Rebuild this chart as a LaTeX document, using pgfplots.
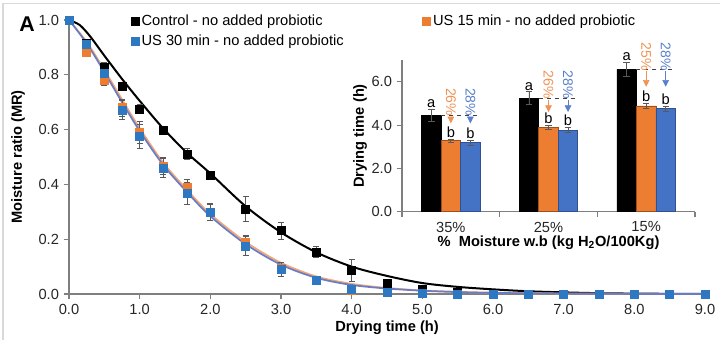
\documentclass[border=0pt]{standalone}
\usepackage{fontspec}
\setmainfont{Liberation Sans}
\usepackage{pgfplots}
\pgfplotsset{compat=1.18}
\usetikzlibrary{arrows.meta}
\definecolor{corg}{HTML}{ED7D31}
\definecolor{cblu}{HTML}{2E78C2}
\definecolor{corgl}{HTML}{F2A777}
\definecolor{cblul}{HTML}{6A7DC4}
\definecolor{bblu}{HTML}{4472C4}
\definecolor{bbluo}{HTML}{2F528F}
\definecolor{borgo}{HTML}{9E4F1C}
\definecolor{axgray}{HTML}{7F7F7F}
\definecolor{errgray}{HTML}{595959}
\definecolor{torg}{HTML}{EE9455}
\definecolor{tblu}{HTML}{5A7FCC}
\begin{document}
\begin{tikzpicture}
\useasboundingbox (0,0) rectangle (540pt,255pt);
\draw[gray!30, line width=1.2pt] (2.25pt,0pt) -- (2.25pt,252.5pt) -- (540pt,252.5pt);
\node[font=\fontsize{16}{18}\selectfont\bfseries] at (20.25pt,237pt) {A};

\begin{axis}[
  at={(51.75pt,34.5pt)}, anchor=south west, scale only axis,
  width=477pt, height=205.5pt,
  xmin=0, xmax=9, ymin=0, ymax=1,
  enlargelimits=false, clip=false,
  axis lines=left, axis line style={-, draw=axgray, line width=0.8pt},
  tick style={draw=axgray, line width=0.8pt}, tick align=outside,
  major tick length=4pt,
  xtick={0,1,2,3,4,5,6,7,8,9}, ytick={0,0.2,0.4,0.6,0.8,1.0},
  /pgf/number format/.cd, fixed, fixed zerofill, precision=1, assume math mode=true,
  /pgfplots/.cd,
  ticklabel style={font=\fontsize{11}{13}\selectfont, text=black!85},
  xlabel={Drying time (h)}, ylabel={Moisture ratio (MR)},
  label style={font=\fontsize{11}{13}\selectfont\bfseries},
  xlabel style={at={(axis description cs:0.5,-0.124)}, anchor=center},
  ylabel style={at={(axis description cs:-0.080,0.5)}, anchor=center},
  legend columns=2,
  legend style={at={(axis description cs:0.097,1.03)}, anchor=north west,
    draw=none, fill=none, inner sep=0pt, row sep=2pt,
    font=\fontsize{11}{13}\selectfont,
    /tikz/every even column/.append style={column sep=57pt}},
  legend cell align=left,
  legend image code/.code={\draw[#1] plot coordinates {(0.1cm,0cm)};},
]
% fitted curves
\addplot[smooth, tension=0.5, black, line width=1.5pt, forget plot] coordinates {
(0,1.0) (0.15,0.982) (0.3,0.94) (0.5,0.87) (0.75,0.785) (1.0,0.705) (1.33,0.605) (1.67,0.515)
(2.0,0.44) (2.5,0.32) (3.0,0.225) (3.5,0.152) (4.0,0.10) (4.5,0.066) (5.0,0.04)
(5.5,0.026) (6.0,0.017) (6.5,0.010) (7.0,0.006) (7.5,0.003) (8.0,0.0015) (9.0,0.0)};
\addplot[smooth, tension=0.5, corgl, line width=1.3pt, forget plot] coordinates {
(0,1.0) (0.25,0.92) (0.5,0.818) (0.75,0.71) (1.0,0.605) (1.33,0.48) (1.67,0.38)
(2.0,0.292) (2.5,0.19) (3.0,0.114) (3.5,0.064) (4.0,0.037) (4.5,0.022) (5.0,0.013)
(5.5,0.008) (6.0,0.005) (7.0,0.002) (8.0,0.001) (9.0,0.0)};
\addplot[smooth, tension=0.5, cblul, line width=1.3pt, forget plot] coordinates {
(0,1.0) (0.25,0.915) (0.5,0.81) (0.75,0.70) (1.0,0.595) (1.33,0.472) (1.67,0.372)
(2.0,0.284) (2.5,0.182) (3.0,0.107) (3.5,0.059) (4.0,0.033) (4.5,0.02) (5.0,0.012)
(5.5,0.007) (6.0,0.004) (7.0,0.0015) (8.0,0.0005) (9.0,0.0)};
% data
\addplot[only marks, mark=square*, mark size=3pt, black,
  error bars/.cd, y dir=both, y explicit,
  error bar style={errgray, line width=0.6pt},
  error mark options={rotate=90, mark size=2.2pt, errgray, line width=0.6pt}]
coordinates {
(0,1.0) +- (0,0) (0.25,0.915) +- (0,0.01) (0.5,0.827) +- (0,0.02) (0.75,0.759) +- (0,0.01)
(1.0,0.676) +- (0,0.015) (1.33,0.598) +- (0,0.01) (1.67,0.51) +- (0,0.02)
(2.0,0.433) +- (0,0.01) (2.5,0.31) +- (0,0.045) (3.0,0.231) +- (0,0.03)
(3.5,0.154) +- (0,0.02) (4.0,0.085) +- (0,0.04) (4.5,0.039) +- (0,0.015)
(5.0,0.018) +- (0,0.005) (5.5,0.005) +- (0,0) (6.0,0.002) +- (0,0) (6.5,0.0) +- (0,0)
(7.0,0.0) +- (0,0) (7.5,0.0) +- (0,0) (8.0,0.0) +- (0,0) (8.5,0.0) +- (0,0) (9.0,0.0) +- (0,0)};
\addlegendentry{Control - no added probiotic}
\addplot[only marks, mark=square*, mark size=3pt, corg,
  error bars/.cd, y dir=both, y explicit,
  error bar style={errgray, line width=0.6pt},
  error mark options={rotate=90, mark size=2.2pt, errgray, line width=0.6pt}]
coordinates {
(0,1.0) +- (0,0) (0.25,0.884) +- (0,0.015) (0.5,0.78) +- (0,0.02) (0.75,0.68) +- (0,0.03)
(1.0,0.59) +- (0,0.04) (1.33,0.468) +- (0,0.03) (1.67,0.39) +- (0,0.03)
(2.0,0.30) +- (0,0.03) (2.5,0.19) +- (0,0.025) (3.0,0.095) +- (0,0.02)
(3.5,0.05) +- (0,0.01) (4.0,0.015) +- (0,0.01) (4.5,0.006) +- (0,0)
(5.0,0.002) +- (0,0) (5.5,0.0) +- (0,0) (6.0,0.0) +- (0,0) (6.5,0.0) +- (0,0)
(7.0,0.0) +- (0,0) (7.5,0.0) +- (0,0) (8.0,0.0) +- (0,0) (8.5,0.0) +- (0,0) (9.0,0.0) +- (0,0)};
\addlegendentry{US 15 min - no added probiotic}
\addplot[only marks, mark=square*, mark size=3pt, cblu,
  error bars/.cd, y dir=both, y explicit,
  error bar style={errgray, line width=0.6pt},
  error mark options={rotate=90, mark size=2.2pt, errgray, line width=0.6pt}]
coordinates {
(0,1.0) +- (0,0) (0.25,0.911) +- (0,0.01) (0.5,0.805) +- (0,0.02) (0.75,0.672) +- (0,0.035)
(1.0,0.575) +- (0,0.045) (1.33,0.46) +- (0,0.035) (1.67,0.368) +- (0,0.04)
(2.0,0.297) +- (0,0.03) (2.5,0.175) +- (0,0.035) (3.0,0.091) +- (0,0.025)
(3.5,0.049) +- (0,0.01) (4.0,0.017) +- (0,0.01) (4.5,0.008) +- (0,0)
(5.0,0.003) +- (0,0) (5.5,0.0) +- (0,0) (6.0,0.0) +- (0,0) (6.5,0.0) +- (0,0)
(7.0,0.0) +- (0,0) (7.5,0.0) +- (0,0) (8.0,0.0) +- (0,0) (8.5,0.0) +- (0,0) (9.0,0.0) +- (0,0)};
\addlegendentry{US 30 min - no added probiotic}
\end{axis}

\begin{axis}[
  at={(301.5pt,96.2pt)}, anchor=south west, scale only axis,
  width=219.75pt, height=113.8pt,
  xmin=-0.5, xmax=2.5, ymin=0, ymax=7,
  clip=false,
  axis lines=left, axis line style={-, draw=axgray, line width=0.8pt},
  tick style={draw=axgray, line width=0.8pt}, tick align=outside,
  major tick length=4pt, minor tick length=4pt,
  xtick={0,1,2}, xticklabels={35\%,25\%,15\%},
  major x tick style={draw=none},
  minor xtick={-0.5,0.5,1.5,2.5},
  ytick={0,2,4,6},
  /pgf/number format/.cd, fixed, fixed zerofill, precision=1, assume math mode=true,
  /pgfplots/.cd,
  ticklabel style={font=\fontsize{11}{13}\selectfont, text=black!85},
  xlabel={\%\ \ Moisture w.b (kg H\textsubscript{2}O/100Kg)}, ylabel={Drying time (h)},
  label style={font=\fontsize{11}{13}\selectfont\bfseries},
  xlabel style={at={(axis description cs:0.5,-0.204)}, anchor=center},
  ylabel style={at={(axis description cs:-0.143,0.5)}, anchor=center},
  every axis plot/.append style={ybar, bar width=14.6pt, bar shift=0pt,
    error bars/y dir=both, error bars/y explicit,
    error bars/error bar style={errgray, line width=0.6pt},
    error bars/error mark options={rotate=90, mark size=2.4pt, errgray, line width=0.6pt}},
]
\addplot[fill=black, draw=black] coordinates {
(-0.2,4.46) +- (0,0.27) (0.8,5.23) +- (0,0.30) (1.8,6.57) +- (0,0.34)};
\addplot[fill=corg, draw=borgo, line width=0.6pt] coordinates {
(0,3.28) +- (0,0.08) (1,3.89) +- (0,0.10) (2,4.88) +- (0,0.12)};
\addplot[fill=bblu, draw=bbluo, line width=0.6pt] coordinates {
(0.2,3.18) +- (0,0.10) (1.2,3.77) +- (0,0.12) (2.2,4.75) +- (0,0.12)};
% letters
\node[anchor=south, inner sep=1pt, font=\fontsize{11}{13}\selectfont] at (axis cs:-0.2,4.73) {a};
\node[anchor=south, inner sep=1pt, font=\fontsize{11}{13}\selectfont] at (axis cs:0.8,5.53) {a};
\node[anchor=south, inner sep=1pt, font=\fontsize{11}{13}\selectfont] at (axis cs:1.8,6.91) {a};
\node[anchor=south, inner sep=1pt, font=\fontsize{11}{13}\selectfont] at (axis cs:0,3.36) {b};
\node[anchor=south, inner sep=1pt, font=\fontsize{11}{13}\selectfont] at (axis cs:0.2,3.28) {b};
\node[anchor=south, inner sep=1pt, font=\fontsize{11}{13}\selectfont] at (axis cs:1,3.99) {b};
\node[anchor=south, inner sep=1pt, font=\fontsize{11}{13}\selectfont] at (axis cs:1.2,3.89) {b};
\node[anchor=south, inner sep=1pt, font=\fontsize{11}{13}\selectfont] at (axis cs:2,5.0) {b};
\node[anchor=south, inner sep=1pt, font=\fontsize{11}{13}\selectfont] at (axis cs:2.2,4.87) {b};
% dashed reference lines
\draw[dashed, black!75, line width=0.6pt] (axis cs:-0.1,4.46) -- (axis cs:0.3,4.46);
\draw[dashed, black!75, line width=0.6pt] (axis cs:0.9,5.23) -- (axis cs:1.3,5.23);
\draw[dashed, black!75, line width=0.6pt] (axis cs:1.9,6.57) -- (axis cs:2.3,6.57);
% percentage labels and arrows
\node[rotate=-90, anchor=west, inner sep=0.5pt, text=torg, font=\fontsize{10.5}{12}\selectfont] (o1) at (axis cs:0,5.75) {26\%};
\node[rotate=-90, anchor=west, inner sep=0.5pt, text=tblu, font=\fontsize{10.5}{12}\selectfont] (l1) at (axis cs:0.2,5.75) {28\%};
\node[rotate=-90, anchor=west, inner sep=0.5pt, text=torg, font=\fontsize{10.5}{12}\selectfont] (o2) at (axis cs:1,6.54) {26\%};
\node[rotate=-90, anchor=west, inner sep=0.5pt, text=tblu, font=\fontsize{10.5}{12}\selectfont] (l2) at (axis cs:1.2,6.54) {28\%};
\node[rotate=-90, anchor=west, inner sep=0.5pt, text=torg, font=\fontsize{10.5}{12}\selectfont] (o3) at (axis cs:2,7.85) {25\%};
\node[rotate=-90, anchor=west, inner sep=0.5pt, text=tblu, font=\fontsize{10.5}{12}\selectfont] (l3) at (axis cs:2.2,7.85) {28\%};
\draw[torg, line width=0.5pt, -{Triangle[length=5pt,width=5pt]}] (o1.east) -- (axis cs:0,4.08);
\draw[tblu, line width=0.5pt, -{Triangle[length=5pt,width=5pt]}] (l1.east) -- (axis cs:0.2,4.08);
\draw[torg, line width=0.5pt, -{Triangle[length=5pt,width=5pt]}] (o2.east) -- (axis cs:1,4.6);
\draw[tblu, line width=0.5pt, -{Triangle[length=5pt,width=5pt]}] (l2.east) -- (axis cs:1.2,4.6);
\draw[torg, line width=0.5pt, -{Triangle[length=5pt,width=5pt]}] (o3.east) -- (axis cs:2,5.77);
\draw[tblu, line width=0.5pt, -{Triangle[length=5pt,width=5pt]}] (l3.east) -- (axis cs:2.2,5.77);
\end{axis}
\end{tikzpicture}
\end{document}
